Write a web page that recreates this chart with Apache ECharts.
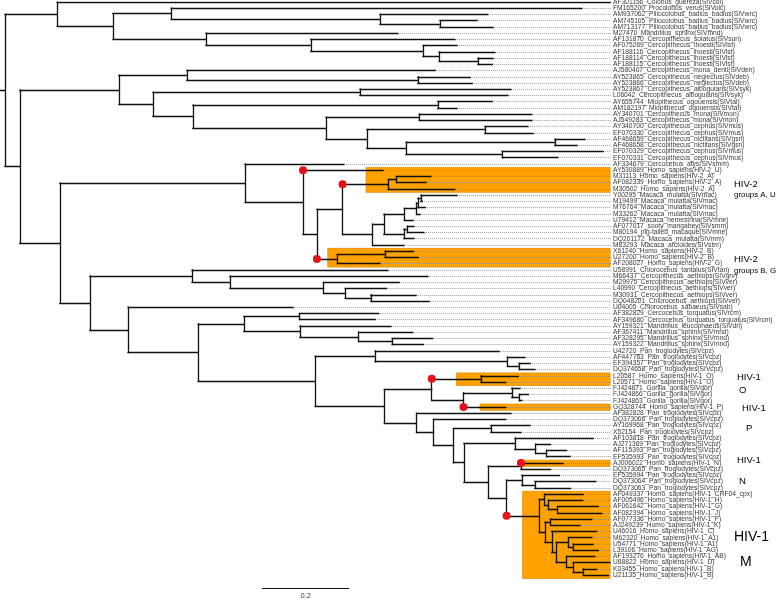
<!DOCTYPE html>
<html><head><meta charset="utf-8">
<script src="https://cdn.jsdelivr.net/npm/echarts@6/dist/echarts.min.js"></script>
<style>html,body{margin:0;padding:0;background:#fff}#c{width:777px;height:600px}</style>
</head><body><div id="c"></div>
<script>
// ---------------- DATA ----------------
const leafLabels = [
"AF301156_Colobus_guereza(SIVcol)","FM165200_Procolobus_verus(SIVolc)","AM937062_Piliocolobus_badius_badius(SIVwrc)",
"AM745105_Piliocolobus_badius_badius(SIVwrc)","AM713177_Piliocolobus_badius_badius(SIVwrc)","M27470_Mandrillus_sphinx(SIVmnd)",
"AF131870_Cercopithecus_solatus(SIVsun)","AF075269_Cercopithecus_lhoesti(SIVlst)","AF188116_Cercopithecus_lhoesti(SIVlst)",
"AF188114_Cercopithecus_lhoesti(SIVlst)","AF188115_Cercopithecus_lhoesti(SIVlst)","AJ580407_Cercopithecus_mona_denti(SIVden)",
"AY523865_Cercopithecus_neglectus(SIVdeb)","AY523866_Cercopithecus_neglectus(SIVdeb)","AY523867_Cercopithecus_albogularis(SIVsyk)",
"L06042_Cercopithecus_albogularis(SIVsyk)","AY655744_Miopithecus_ogouensis(SIVtal)","AM182197_Miopithecus_ogouensis(SIVtal)",
"AY340701_Cercopithecus_mona(SIVmon)","AJ549283_Cercopithecus_mona(SIVmon)","AY340700_Cercopithecus_cephus(SIVmus)",
"EF070330_Cercopithecus_cephus(SIVmus)","AF468659_Cercopithecus_nictitans(SIVgsn)","AF468658_Cercopithecus_nictitans(SIVgsn)",
"EF070329_Cercopithecus_cephus(SIVmus)","EF070331_Cercopithecus_cephus(SIVmus)","AF334679_Cercocebus_atys(SIVsmm)",
"AY530889_Homo_sapiens(HIV-2_U)","M31113_Homo_sapiens(HIV-2_A)","AF082339_Homo_sapiens(HIV-2_A)",
"M30502_Homo_sapiens(HIV-2_A)","Y00295_Macaca_mulatta(SIVmac)","M19499_Macaca_mulatta(SIVmac)",
"M76764_Macaca_mulatta(SIVmac)","M33262_Macaca_mulatta(SIVmac)","U79412_Macaca_nemestrina(SIVmne)",
"AF077017_sooty_mangabey(SIVsmm)","M80194_pig-tailed_macaque(SIVmne)","DQ201172_Macaca_mulatta(SIVmm)",
"M83293_Macaca_arctoides(SIVstm)","X61240_Homo_sapiens(HIV-2_B)","U27200_Homo_sapiens(HIV-2_B)",
"AF208027_Homo_sapiens(HIV-2_G)","U58991_Chlorocebus_tantalus(SIVtan)","M66437_Cercopithecus_aethiops(SIVgrv)",
"M29975_Cercopithecus_aethiops(SIVver)","L40990_Cercopithecus_aethiops(SIVver)","M30931_Cercopithecus_aethiops(SIVver)",
"DQ048201_Chlorocebus_aethiops(SIVver)","U04005_Chlorocebus_sabaeus(SIVsab)","AF382829_Cercocebus_torquatus(SIVrcm)",
"AF349680_Cercocebus_torquatus_torquatus(SIVrcm)","AY159321_Mandrillus_leucophaeus(SIVdrl)","AF367411_Mandrillus_sphinx(SIVmnd)",
"AF328295_Mandrillus_sphinx(SIVmnd)","AY159322_Mandrillus_sphinx(SIVmnd)","U42720_Pan_troglodytes(SIVcpz)",
"AF447763_Pan_troglodytes(SIVcpz)","EF394357_Pan_troglodytes(SIVcpz)","DQ374658_Pan_troglodytes(SIVcpz)",
"L20587_Homo_sapiens(HIV-1_O)","L20571_Homo_sapiens(HIV-1_O)","FJ424871_Gorilla_gorilla(SIVgor)",
"FJ424866_Gorilla_gorilla(SIVgor)","FJ424863_Gorilla_gorilla(SIVgor)","GQ328744_Homo_sapiens(HIV-1_P)",
"AF382828_Pan_troglodytes(SIVcpz)","DQ373066_Pan_troglodytes(SIVcpz)","AY169968_Pan_troglodytes(SIVcpz)",
"X52154_Pan_troglodytes(SIVcpz)","AF103818_Pan_troglodytes(SIVcpz)","AJ271369_Pan_troglodytes(SIVcpz)",
"AF115393_Pan_troglodytes(SIVcpz)","EF535993_Pan_troglodytes(SIVcpz)","AJ006022_Homo_sapiens(HIV-1_N)",
"DQ373065_Pan_troglodytes(SIVcpz)","EF535994_Pan_troglodytes(SIVcpz)","DQ373064_Pan_troglodytes(SIVcpz)",
"DQ373063_Pan_troglodytes(SIVcpz)","AF049337_Homo_sapiens(HIV-1_CRF04_cpx)","AF005496_Homo_sapiens(HIV-1_H)",
"AF061642_Homo_sapiens(HIV-1_G)","AF082394_Homo_sapiens(HIV-1_J)","AF077336_Homo_sapiens(HIV-1_F)",
"AJ249239_Homo_sapiens(HIV-1_K)","U46016_Homo_sapiens(HIV-1_C)","M62320_Homo_sapiens(HIV-1_A1)",
"U54771_Homo_sapiens(HIV-1_A1)","L39106_Homo_sapiens(HIV-1_AG)","AF193276_Homo_sapiens(HIV-1_AB)",
"U88822_Homo_sapiens(HIV-1_D)","K03455_Homo_sapiens(HIV-1_B)","U21135_Homo_sapiens(HIV-1_B)"
];

// distance from root (substitutions/site) of each leaf tip
const tipDepths = [
1.391,1.326,1.110,1.085,1.122,0.903,1.034,1.039,1.126,1.122,
1.120,0.989,1.069,1.074,1.163,1.156,1.120,1.039,1.211,1.211,
1.202,1.214,1.333,1.315,1.375,1.271,0.779,0.869,0.979,0.968,
1.034,1.039,0.959,0.966,0.954,0.938,0.940,0.963,0.940,0.917,
0.939,0.950,0.862,0.880,0.972,0.906,0.877,0.945,0.975,0.662,
0.859,0.851,0.887,0.937,0.983,0.962,1.136,1.195,1.207,1.218,
1.180,1.151,1.184,1.203,1.188,1.151,1.163,1.151,1.207,1.186,
1.352,1.254,1.291,1.299,1.283,1.254,1.274,1.358,1.300,1.329,
1.328,1.364,1.372,1.349,1.322,1.360,1.349,1.352,1.364,1.356,
1.391,1.360,1.387
];

// topology: leaves are indices into leafLabels, ")"-closed groups carry the node's depth
const treeNewick =
"((0,((1,(2,(3,4):1.000):0.862):0.382,(5,(6,(7,(8,(9,10):1.087):0.998):0.961):0.703):0.462):0.248):0.120," +
"(((11,(12,13):0.949):0.418,((14,15):0.816,((16,17):0.995,((18,19):0.952,((20,21):1.103,((22,23):1.264,(24,25):1.143):0.922):0.832):0.738):0.432):0.340):0.262," +
"((26,(27,((((28,29):0.900,30):0.881,((((((31,32):0.956,33):0.949,34):0.946,35):0.918,((36,37):0.925,38):0.917):0.871,39):0.845):0.776,((40,41):0.874,42):0.764):0.717):0.685):0.552," +
"((43,(44,(45,(46,(47,48):0.841):0.782):0.732):0.517):0.430," +
"(49,(((50,51):0.677,(52,(53,(54,55):0.890):0.813):0.678):0.549," +
"((56,(57,(58,59):1.182):1.155):0.851," +
"(((60,61):1.094,((62,(63,64):1.182):1.165,65):1.054):0.981," +
"(66,(67,((68,69):1.117,((70,(71,(72,73):1.245):1.220):1.172,((74,75):1.186,((76,(77,78):1.218):1.188," +
"((79,(80,(81,82):1.270):1.249):1.240,((83,84):1.254,(85,((86,(87,88):1.306):1.295,(89,(90,(91,92):1.329):1.306):1.291):1.267):1.257):1.241):1.228" +
"):1.153):1.111):1.055):1.031):0.985):0.946):0.872):0.713):0.444):0.283):0.195):0.126):0.034):0";

// clades whose stem carries a red transmission dot [firstLeaf, lastLeaf]
const transmissions = [[27,27],[28,30],[40,42],[60,61],[65,65],[74,74],[79,92]];
// highlighted (orange) human clades
const boxFirst = [27, 40, 60, 65, 74, 79];
const boxLast  = [30, 42, 61, 65, 74, 92];
const boxFrom  = [0.830, 0.742, 1.038, 1.092, 1.188, 1.190];
const boxTo = 1.391;
const labelDepth = 1.393;
const scaleBarFrom = 0.591, scaleBarLength = 0.2, scaleBarText = "0.2";
const groupTitles = [
  ["HIV-2","groups A, U"],["HIV-2","groups B, G"],["HIV-1","O"],["HIV-1","P"],["HIV-1","N"],["HIV-1","M"]
];

// ---------------- TREE LAYOUT ----------------
function parseTree(s){
  let i = 0;
  function num(){ const j=i; while(i<s.length && /[0-9.]/.test(s[i])) i++; return parseFloat(s.slice(j,i)); }
  function node(){
    if (s[i] === '('){
      i++;
      const ch = [node()];
      while (s[i] === ','){ i++; ch.push(node()); }
      i++; // ')'
      i++; // ':'
      return {children: ch, depth: num()};
    }
    const idx = num();
    return {leaf: idx, depth: tipDepths[idx]};
  }
  return node();
}
const root = parseTree(treeNewick);
function layout(n, parent){
  n.parent = parent;
  if (n.children){
    n.children.forEach(c => layout(c, n));
    const f = n.children[0], l = n.children[n.children.length-1];
    n.y = (f.y + l.y)/2; n.lo = f.lo; n.hi = l.hi;
  } else { n.y = n.leaf; n.lo = n.hi = n.leaf; }
}
layout(root, null);

const branches = [];
const allNodes = [];
(function walk(n){
  allNodes.push(n);
  if (!n.children) return;
  const f = n.children[0], l = n.children[n.children.length-1];
  branches.push({coords: [[n.depth, f.y],[n.depth, l.y]]});
  n.children.forEach(c => { branches.push({coords: [[n.depth, c.y],[c.depth, c.y]]}); walk(c); });
})(root);
const xMin = -0.0115, xMax = 1.7747;
branches.push({coords: [[xMin, root.y],[root.depth, root.y]]});

const leaders = [];
tipDepths.forEach((d,i) => { if (d < labelDepth) leaders.push({coords: [[d, i],[labelDepth, i]]}); });

const dots = transmissions.map(([a,b]) => {
  const n = allNodes.find(m => m.lo === a && m.hi === b);
  return [n.parent.depth, n.y];
});

const boxes = boxFirst.map((f,k) => [
  {coord: [boxFrom[k], f - 0.45]},
  {coord: [boxTo, boxLast[k] + 0.55]}
]);

const labelPts = leafLabels.map((t,i) => [labelDepth, i, t]);

// ---------------- CHART ----------------
const chart = echarts.init(document.getElementById('c'), null, {renderer: 'canvas'});
const FONT = '"Liberation Sans", Arial, sans-serif';
const gt = (x, y, text, size) => ({type:'text', left:x, top:y,
  style:{text, fontSize:size, fontFamily:FONT, fill:'#000', textVerticalAlign:'middle'}});
const CLEAR = 'rgba(0,0,0,0)';
chart.setOption({
  animation: false,
  grid: {left: 0, top: 2, width: 777, height: 599},
  xAxis: {type:'value', min:xMin, max:xMax, show:false},
  yAxis: {type:'value', min:0, max:96, inverse:true, show:false},
  series: [
    { type:'scatter', data:[], silent:true, z:1,
      markArea: { silent:true, itemStyle:{color:'#FFA200', borderColor:'#E58F00', borderWidth:0.8, opacity:1}, data: boxes } },
    { type:'lines', coordinateSystem:'cartesian2d', silent:true, z:2, data: leaders,
      lineStyle:{color:'#8a8a8a', width:0.8, type:[1,1], opacity:1} },
    { type:'lines', coordinateSystem:'cartesian2d', silent:true, z:3, data: branches,
      lineStyle:{color:'#111', width:1.3, opacity:1, cap:'square'} },
    { type:'scatter', silent:true, z:4, data: dots, symbolSize:8, itemStyle:{color:'#E3121B', opacity:1} },
    { type:'scatter', silent:true, z:5, data: labelPts, symbolSize:1, itemStyle:{color:CLEAR},
      label:{show:true, position:'right', distance:1.5, formatter:p=>p.data[2], fontSize:6.7, fontFamily:FONT, color:'#000'} },
    { type:'lines', coordinateSystem:'cartesian2d', silent:true, z:3,
      data:[{coords:[[scaleBarFrom, 94.08],[scaleBarFrom+scaleBarLength, 94.08]]}],
      lineStyle:{color:'#111', width:1, opacity:1} },
    { type:'scatter', silent:true, z:5, data:[[scaleBarFrom+scaleBarLength/2, 95.3]], symbolSize:1, itemStyle:{color:CLEAR},
      label:{show:true, position:'inside', formatter:scaleBarText, fontSize:7.5, fontFamily:FONT, color:'#000'} }
  ],
  graphic: [
    gt(734,179,groupTitles[0][0],9.5), gt(734,191,groupTitles[0][1],7.9),
    gt(734,254,groupTitles[1][0],9.5), gt(734,267,groupTitles[1][1],7.9),
    gt(737,372,groupTitles[2][0],9.5), gt(739,385,groupTitles[2][1],9.5),
    gt(742,403,groupTitles[3][0],9.5), gt(746,423,groupTitles[3][1],9.5),
    gt(737,455,groupTitles[4][0],9.5), gt(739,476,groupTitles[4][1],9.5),
    gt(734,530,groupTitles[5][0],14), gt(740,555,groupTitles[5][1],14)
  ]
});
</script></body></html>
